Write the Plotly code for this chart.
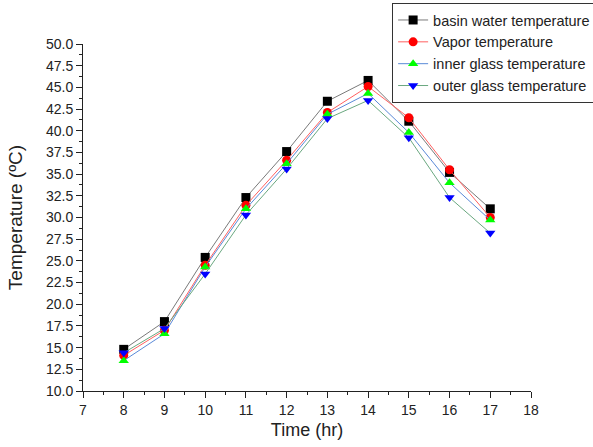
import plotly.graph_objects as go

hours = [8, 9, 10, 11, 12, 13, 14, 15, 16, 17]
basin = [14.8, 18.0, 25.4, 32.3, 37.6, 43.4, 45.8, 41.1, 35.2, 31.0]
vapor = [14.1, 17.0, 24.5, 31.4, 36.6, 42.1, 45.1, 41.5, 35.5, 30.0]
inner = [13.5, 16.6, 24.3, 31.0, 36.2, 41.9, 44.3, 39.8, 34.0, 29.7]
outer = [14.4, 17.2, 23.5, 30.3, 35.6, 41.4, 43.5, 39.2, 32.3, 28.2]

series = [
    ("basin water temperature", basin, "#7a7a7a", "black", "square"),
    ("Vapor temperature", vapor, "#ff6060", "red", "circle"),
    ("inner glass temperature", inner, "#5a8ad8", "#00ff00", "triangle-up"),
    ("outer glass temperature", outer, "#6aa880", "blue", "triangle-down"),
]

fig = go.Figure()
for name, vals, lc, mc, sym in series:
    fig.add_trace(go.Scatter(
        x=hours, y=vals, name=name, mode="lines+markers",
        line=dict(color=lc, width=1),
        marker=dict(symbol=sym, color=mc, size=9, line=dict(width=0)),
    ))

font = "Arial, Liberation Sans, sans-serif"
fig.update_layout(
    width=593, height=447,
    margin=dict(l=83, r=62, t=44, b=56, autoexpand=False),
    paper_bgcolor="white", plot_bgcolor="white",
    font=dict(family=font, size=14, color="#222"),
    showlegend=True,
    legend=dict(
        x=0.69, y=1.118, xanchor="left", yanchor="top",
        bordercolor="#333", borderwidth=1, bgcolor="white",
        font=dict(size=14.5, color="#222"),
        tracegroupgap=0, itemwidth=30,
    ),
    xaxis=dict(
        range=[7, 18], tick0=7, dtick=1,
        showline=True, linecolor="#222", linewidth=1,
        ticks="outside", ticklen=6, tickcolor="#222",
        tickfont=dict(size=14),
        minor=dict(ticks="outside", ticklen=3, dtick=0.5, tickcolor="#222"),
        showgrid=False, zeroline=False,
        title=dict(text="Time (hr)", font=dict(size=18, color="#222"), standoff=6),
    ),
    yaxis=dict(
        range=[10, 50], tick0=10, dtick=2.5, tickformat=".1f",
        showline=True, linecolor="#222", linewidth=1,
        ticks="outside", ticklen=6, tickcolor="#222",
        tickfont=dict(size=14),
        minor=dict(ticks="outside", ticklen=3, dtick=1.25, tickcolor="#222"),
        showgrid=False, zeroline=False,
        title=dict(text="Temperature (ºC)", font=dict(size=19, color="#222"), standoff=18),
    ),
)

fig.write_html("out.html")
